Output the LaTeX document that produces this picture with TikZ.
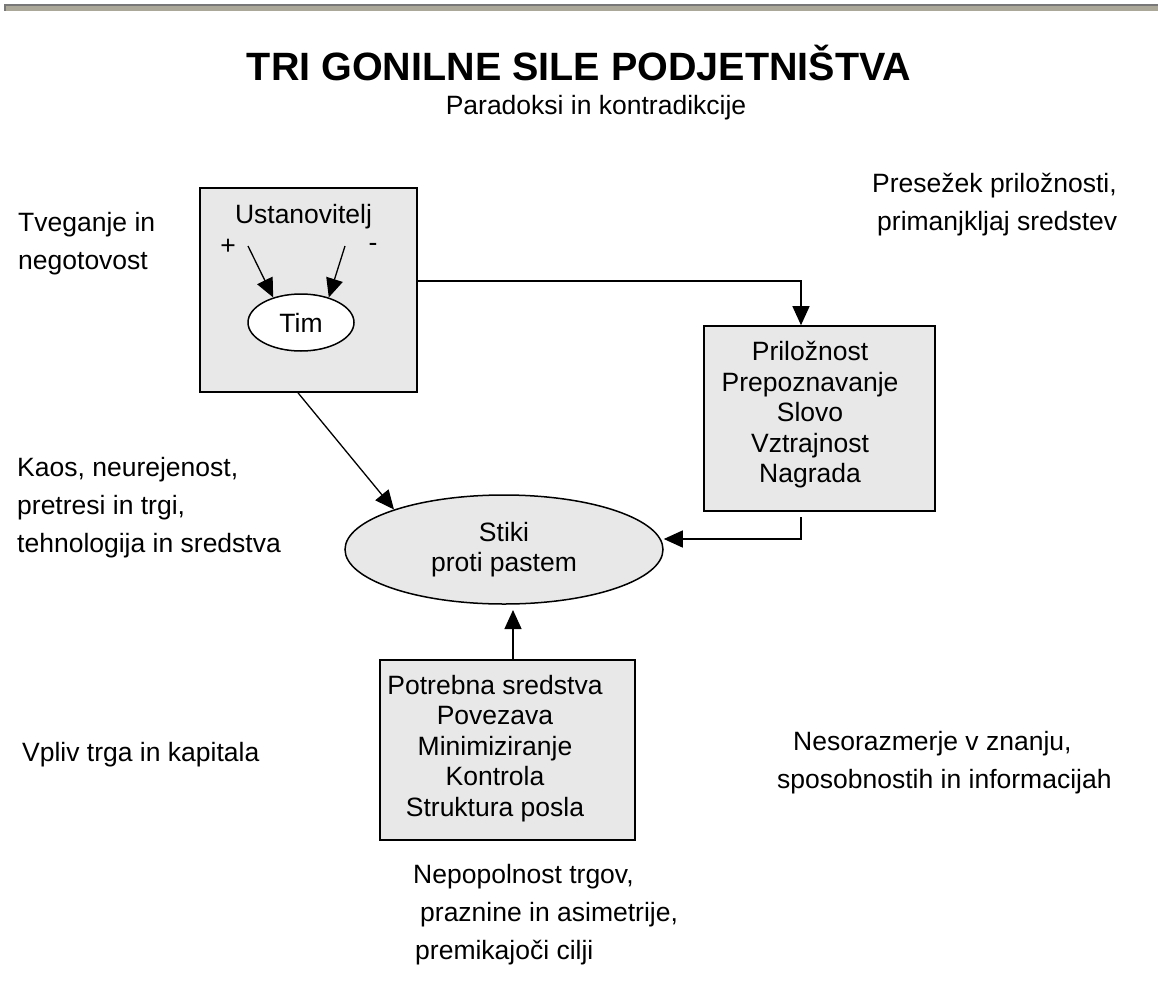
\documentclass[tikz,border=0pt]{standalone}
\usepackage{fontspec}
\setmainfont{Liberation Sans}
\usetikzlibrary{arrows.meta,shapes.geometric}
\definecolor{rulefill}{RGB}{172,168,153}
\definecolor{ruleedge}{RGB}{120,120,120}
\definecolor{boxfill}{RGB}{232,232,232}
\begin{document}
\begin{tikzpicture}[x=1pt,y=-1pt,
  txt/.style={font=\fontsize{26.5}{38}\selectfont, inner sep=0pt, align=left, anchor=west},
  boxtxt/.style={font=\fontsize{26.5}{30.5}\selectfont, inner sep=0pt, align=center},
  graybox/.style={draw=black, line width=1.6pt, fill=boxfill, inner sep=0pt},
  arr/.style={line width=1.3pt, -{Triangle[length=19pt,width=17pt]}},
  ln/.style={line width=1.3pt}]
\useasboundingbox (0,0) rectangle (1158,998);
\fill[white] (0,0) rectangle (1158,998);
% top rule
\fill[rulefill] (5,5) rectangle (1158,11);
\draw[ruleedge, line width=1.2pt] (5,11) |- (1158,5);
% title
\node[font=\fontsize{39.5}{42}\selectfont\bfseries, inner sep=0pt] (title) at (579,63) {TRI GONILNE SILE PODJETNIŠTVA};
\node[boxtxt] (subtitle) at (596,108) {Paradoksi in kontradikcije};
% side texts
\node[txt] (tveg) at (18,244) {Tveganje in\\negotovost};
\node[txt] (kaos) at (17,508) {Kaos, neurejenost,\\pretresi in trgi,\\tehnologija in sredstva};
\node[txt] (vpliv) at (22,755) {Vpliv trga in kapitala};
\node[txt] (prese) at (872,205) {Presežek priložnosti,\\\hspace*{5pt}primanjkljaj sredstev};
\node[txt] (nesor) at (777,763) {\hspace*{16pt}Nesorazmerje v znanju,\\sposobnostih in informacijah};
\node[txt] (nepop) at (413,915) {Nepopolnost trgov,\\\hspace*{7pt}praznine in asimetrije,\\\hspace*{2pt}premikajoči cilji};
% founder box
\node[graybox, minimum width=217pt, minimum height=204pt] (fbox) at (308.5,290) {};
\node[boxtxt] (ust) at (303.5,217) {Ustanovitelj};
\node[boxtxt] (plus) at (228,247) {+};
\node[boxtxt] (minus) at (373,247) {-};
\node[boxtxt, ellipse, draw, fill=white, line width=1.5pt, minimum width=106pt, minimum height=57pt] (tim) at (301,322.5) {Tim};
\coordinate (s1) at (248,246);
\coordinate (s2) at (345,246);
\draw[arr] (s1) -- (tim.138);
\draw[arr] (s2) -- (tim.42);
% right box
\node[graybox, minimum width=231pt, minimum height=185pt] (rbox) at (819.5,418.5) {};
\node[boxtxt] (rtxt) at (810,415) {Priložnost\\Prepoznavanje\\Slovo\\Vztrajnost\\Nagrada};
% central ellipse
\node[boxtxt, ellipse, draw, fill=boxfill, line width=1.5pt, minimum width=318pt, minimum height=109pt] (stiki) at (504,549.5) {Stiki\\proti pastem};
% bottom box
\node[graybox, minimum width=255pt, minimum height=180pt] (bbox) at (507.5,750) {};
\node[boxtxt] (btxt) at (495,748.5) {Potrebna sredstva\\Povezava\\Minimiziranje\\Kontrola\\Struktura posla};
% connectors
\draw[arr] ([yshift=9pt]fbox.east) -| ([xshift=-18.5pt]rbox.north);
\draw[arr] ([xshift=-10.5pt]fbox.south) -- (stiki.160);
\coordinate (tick) at (801,517);
\coordinate (bend) at (801,539);
\draw[arr] (tick) -- (bend) -- (bend -| stiki.east);
\coordinate (btip) at (513,610);
\draw[arr] (bbox.north -| btip) -- (btip);
\end{tikzpicture}
\end{document}
